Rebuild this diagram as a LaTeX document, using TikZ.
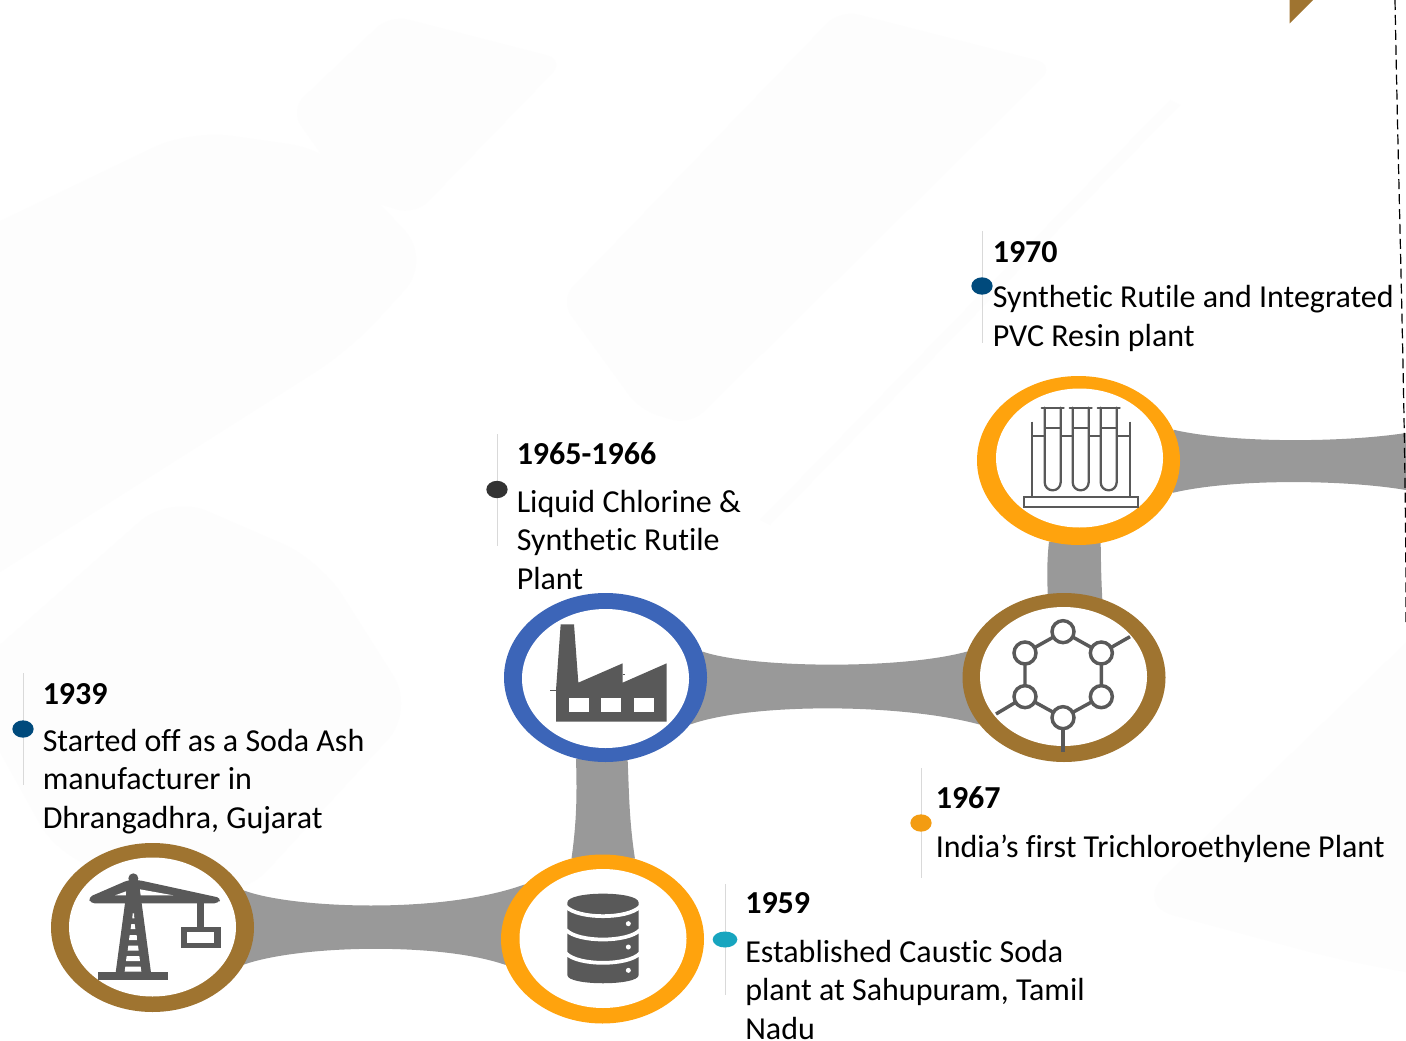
\documentclass[tikz,border=0pt]{standalone}
\usepackage{fontspec}
\setmainfont[Ligatures=NoCommon]{Carlito}
\usetikzlibrary{shapes.geometric}
\pgfdeclarelayer{bg}
\pgfdeclarelayer{conn}
\pgfsetlayers{bg,conn,main}
\definecolor{brownring}{HTML}{9F7430}
\definecolor{orangering}{HTML}{FFA30D}
\definecolor{bluering}{HTML}{3C65B8}
\definecolor{connector}{HTML}{999999}
\definecolor{icon}{HTML}{595959}
\definecolor{ghost}{HTML}{FDFDFD}
\definecolor{rulegray}{HTML}{D9D9D9}
\definecolor{dotblue}{HTML}{004A7C}
\definecolor{dotdark}{HTML}{333333}
\definecolor{dotteal}{HTML}{17A5BF}
\definecolor{dotorange}{HTML}{F39C12}
\tikzset{
  x=0.75pt,y=-0.75pt,
  ring/.style={ellipse,minimum width=152.25pt,minimum height=126.75pt,inner sep=0pt,fill=#1},
  hole/.style={ellipse,minimum width=125.25pt,minimum height=104.25pt,inner sep=0pt,fill=white},
  link/.style={fill=connector,draw=none},
  dot/.style={ellipse,minimum width=16pt,minimum height=13pt,inner sep=0pt,fill=#1},
  year/.style={anchor=base west,inner sep=0pt,font=\fontsize{24}{24}\selectfont\bfseries},
  desc/.style={anchor=base west,inner sep=0pt,font=\fontsize{24}{29}\selectfont},
  tick/.style={draw=rulegray,line width=0.6pt},
  ghostshape/.style={fill=ghost,draw=none,rounded corners=30pt},
  line/.style={draw=icon,line width=1.7pt},
  thick line/.style={draw=icon,line width=2.6pt},
}
\begin{document}
\begin{tikzpicture}
\useasboundingbox (0,0) rectangle (1406,1041);
\clip (0,0) rectangle (1406,1041);

\begin{pgfonlayer}{bg}
\fill[white] (0,0) rectangle (1406,1041);
\path[ghostshape] (-60,250) -- (190,130) -- (330,150) -- (432,260) -- (350,350) -- (-60,610) -- cycle;
\path[ghostshape,rounded corners=14pt] (290,110) -- (390,15) -- (565,60) -- (415,215) -- (350,195) -- cycle;
\path[ghostshape,rounded corners=14pt] (560,300) -- (840,10) -- (1055,65) -- (690,425) -- (640,410) -- cycle;
\path[ghostshape] (-40,680) -- (170,495) -- (320,560) -- (415,710) -- (240,900) -- (60,860) -- cycle;
\path[ghostshape] (1135,905) -- (1450,600) -- (1450,980) -- (1340,960) -- cycle;
\path[ghostshape,rounded corners=0pt] (1170,100) -- (1180,105) -- (770,525) -- (760,520) -- cycle;
\end{pgfonlayer}

% rings
\node[ring=brownring] (crane) at (152.5,927.5) {};
\node[hole] (craneh) at (152.5,927) {};
\node[ring=orangering] (db) at (602.5,939) {};
\node[hole] (dbh) at (603,938.5) {};
\node[ring=bluering] (factory) at (605.5,677.5) {};
\node[hole] (factoryh) at (605.5,678.5) {};
\node[ring=brownring] (mol) at (1064,677.5) {};
\node[hole] (molh) at (1063.5,676.5) {};
\node[ring=orangering] (tubes) at (1078.5,460.5) {};
\node[hole] (tubesh) at (1079.5,458) {};
\coordinate (edgeU) at (1406,433);
\coordinate (edgeL) at (1406,490);
\coordinate (dashA) at (1395,0);
\coordinate (dashB) at (1406,622);

\begin{pgfonlayer}{conn}
\path[link] (crane.22) .. controls (290,908) and (440,915) .. (db.145)
  -- (db.195) .. controls (440,942) and (300,945) .. (crane.-22) -- cycle;
\path[link] (factory.250) .. controls (577,790) and (577,820) .. (db.111)
  -- (db.68) .. controls (629,820) and (629,790) .. (factory.285) -- cycle;
\path[link] (factory.15) .. controls (750,668) and (900,670) .. (mol.165)
  -- (mol.209) .. controls (900,703) and (750,703) .. (factory.-29) -- cycle;
\path[link] (tubes.250) .. controls (1047,560) and (1047,575) .. (mol.101)
  -- (mol.64) .. controls (1101,575) and (1101,560) .. (tubes.285) -- cycle;
\path[link] (tubes.18) .. controls (1230,443) and (1340,443) .. (edgeU)
  -- (edgeL) .. controls (1340,479) and (1230,479) .. (tubes.-19) -- cycle;
\end{pgfonlayer}

% corner marks
\fill[brownring] (1289.5,0) -- (1313,0) -- (1289.5,23.5) -- cycle;
\draw[black,line width=0.9pt,dash pattern=on 7.5pt off 3.7pt] (dashA) .. controls (1399,220) and (1406,420) .. (dashB);

% crane icon
\begin{scope}[shift={(20,820)},x=0.25pt,y=-0.25pt]
\fill[icon] (340,175) circle[radius=15];
\fill[icon,rounded corners=3pt] (325,180) -- (205,232) -- (212,250) -- (595,250) -- (603,234) -- (355,180) -- cycle;
\fill[white] (285,226) -- (318,214) -- (318,226) -- cycle;
\fill[white] (360,208) -- (460,226) -- (360,226) -- cycle;
\fill[icon] (287,458) -- (393,458) -- (357,190) -- (323,190) -- cycle;
\fill[icon] (235,456) rectangle (443,480);
\fill[white] (338,280) -- (342,280) -- (343,295) -- (337,295) -- cycle;
\fill[white] (334,312) -- (344,312) -- (346,327) -- (332,327) -- cycle;
\fill[white] (329,345) -- (350,345) -- (351,360) -- (327,360) -- cycle;
\fill[white] (325,377) -- (354,377) -- (356,392) -- (323,392) -- cycle;
\fill[white] (320,408) -- (358,408) -- (360,423) -- (318,423) -- cycle;
\fill[white] (316,440) -- (362,440) -- (364,455) -- (314,455) -- cycle;
\fill[icon] (532,250) rectangle (553,320);
\fill[icon] (483,320) rectangle (602,383);
\fill[white] (501,335) rectangle (583,368);
\end{scope}

% database icon
\begin{scope}[shift={(520,860)},x=0.25pt,y=-0.25pt]
\fill[icon] (142,128) .. controls (142,92) and (356,92) .. (356,128)
  -- (356,345) .. controls (356,378) and (142,378) .. (142,345) -- cycle;
\foreach \yy in {140,210,280}{
  \draw[white,line width=2.8pt] (138,\yy) .. controls (175,\yy+38) and (323,\yy+38) .. (360,\yy);
}
\foreach \yy in {191,261,331}{\fill[white] (325,\yy) circle[radius=7.5];}
\end{scope}

% factory icon
\begin{scope}[shift={(490,580)},x=0.25pt,y=-0.25pt]
\fill[icon] (198,425) -- (198,330) -- (212,133) -- (252,133) -- (265,308) -- (398,250) -- (398,308) -- (530,250) -- (530,425) -- cycle;
\draw[icon,line width=0.7pt] (180,332) -- (198,332);
\draw[icon,line width=0.7pt] (398,283) -- (405,283);
\fill[white] (237,355) rectangle (296,395);
\fill[white] (334,355) rectangle (393,395);
\fill[white] (432,355) rectangle (491,395);
\end{scope}

% test tube icon
\begin{scope}[shift={(950,370)},x=0.25pt,y=-0.25pt]
\draw[line] (222,382) rectangle (565,412);
\draw[line] (247,155) -- (247,382);
\draw[line] (539,155) -- (539,382);
\draw[line] (247,197) -- (539,197);
\foreach \cx in {308,392,476}{
  \draw[line,fill=white,line cap=round] (\cx-24,113) -- (\cx-24,337) arc[start angle=180,end angle=0,radius=24] -- (\cx+24,113);
  \draw[line] (\cx-24,175) -- (\cx+24,175);
  \draw[line,line cap=round] (\cx-33,113) -- (\cx+33,113);
}
\end{scope}

% molecule icon
\begin{scope}[shift={(950,580)},x=0.25pt,y=-0.25pt]
\draw[thick line] (339,155) -- (454,219) -- (454,350) -- (339,413) -- (225,350) -- (225,219) -- cycle;
\draw[thick line] (454,219) -- (540,170);
\draw[thick line] (225,350) -- (138,402);
\draw[thick line] (339,413) -- (339,515);
\foreach \cx/\cy in {339/155,454/219,454/350,339/413,225/350,225/219}{
  \draw[thick line,fill=white] (\cx,\cy) circle[radius=33];
}
\end{scope}

% date ticks and dots
\draw[tick] (23,673) -- (23,785);
\draw[tick] (497,434) -- (497,546);
\draw[tick] (725,884) -- (725,995);
\draw[tick] (921,768) -- (921,878);
\draw[tick] (982,231) -- (982,343);
\node[dot=dotblue] (d1) at (23,729) {};
\node[dot=dotdark] (d2) at (497,489.5) {};
\node[dot=dotteal,minimum width=18.5pt,minimum height=12pt] (d3) at (725,939.5) {};
\node[dot=dotorange] (d4) at (921,823) {};
\node[dot=dotblue] (d5) at (982,286) {};

% text
\node[year] (y1) at (42.5,704.5) {1939};
\node[desc,align=left] (t1) at (42.5,828.5) {Started off as a Soda Ash\\manufacturer in\\Dhrangadhra, Gujarat};
\node[year] (y2) at (516.5,464.5) {1965-1966};
\node[desc,align=left] (t2) at (516.5,589.5) {Liquid Chlorine \&\\Synthetic Rutile\\Plant};
\node[year] (y3) at (745,913) {1959};
\node[desc,align=left] (t3) at (745,1039.5) {Established Caustic Soda\\plant at Sahupuram, Tamil\\Nadu};
\node[year] (y4) at (935.5,808.5) {1967};
\node[desc,align=left] (t4) at (935.5,857.5) {India’s first Trichloroethylene Plant};
\node[year] (y5) at (992.5,262.5) {1970};
\node[desc,align=left] (t5) at (992.5,346.5) {Synthetic Rutile and Integrated\\PVC Resin plant};
\end{tikzpicture}
\end{document}
